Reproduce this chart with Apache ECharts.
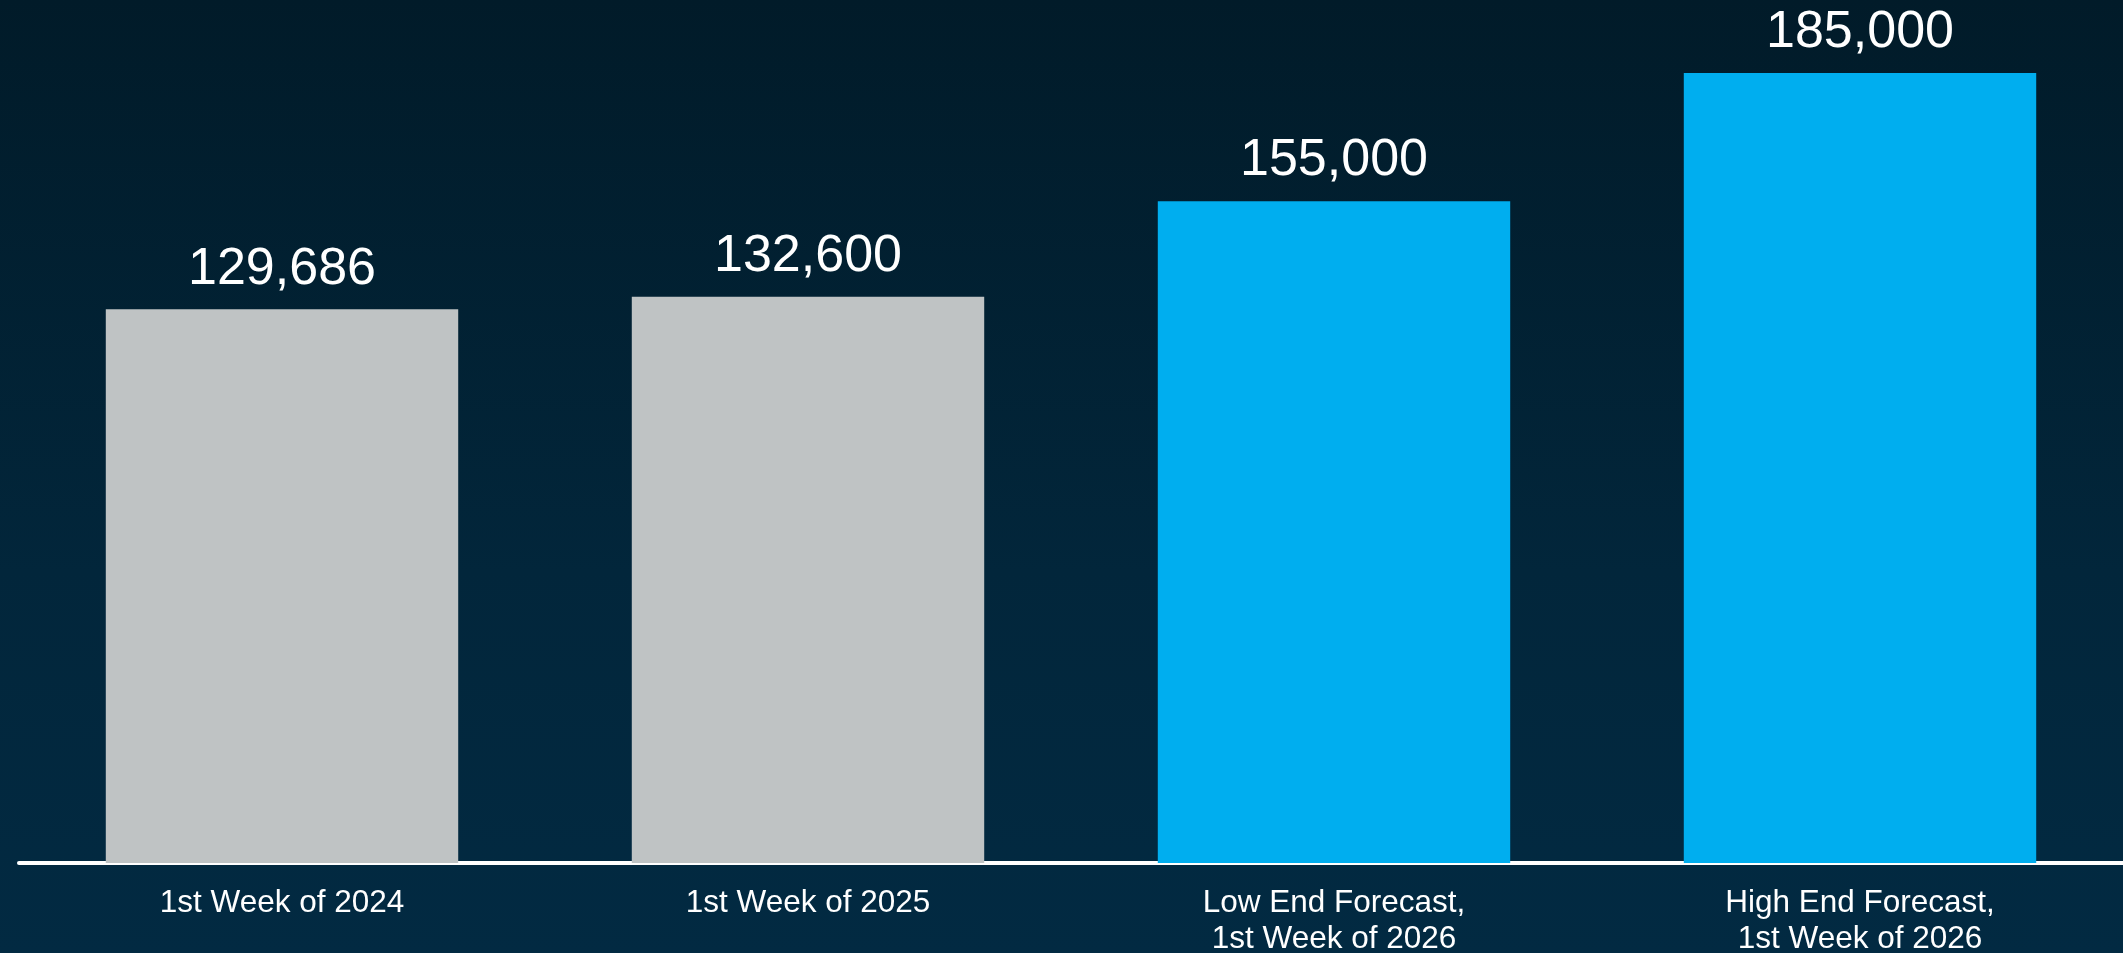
<!DOCTYPE html>
<html>
<head>
<meta charset="utf-8">
<script src="https://cdn.jsdelivr.net/npm/echarts@6/dist/echarts.min.js"></script>
<style>
  html, body { margin: 0; padding: 0; }
  #chart {
    width: 2123px;
    height: 953px;
    background: linear-gradient(to bottom, #011b29 0%, #02263b 60%, #022a42 100%);
  }
</style>
</head>
<body>
<div id="chart"></div>
<script>
// categories and values
var categories = [
  "1st Week of 2024",
  "1st Week of 2025",
  "Low End Forecast,\n1st Week of 2026",
  "High End Forecast,\n1st Week of 2026"
];
var values = [129686, 132600, 155000, 185000];
var barColors = ["#bfc3c4", "#bfc3c4", "#00aeef", "#00aeef"];

var myChart = echarts.init(document.getElementById("chart"));

var option = {
  backgroundColor: "transparent",
  animation: false,
  grid: {
    left: 19,
    right: 0,
    top: 9,
    bottom: 90,
    containLabel: false,
    outerBoundsMode: "none"
  },
  xAxis: {
    type: "category",
    data: categories,
    axisTick: { show: false },
    axisLine: {
      show: true,
      lineStyle: { color: "#ffffff", width: 4 }
    },
    axisLabel: {
      interval: 0,
      margin: 22,
      color: "#ffffff",
      fontFamily: "Liberation Sans, Arial, sans-serif",
      fontSize: 31.5,
      lineHeight: 36
    }
  },
  yAxis: {
    type: "value",
    min: 0,
    max: 200000,
    show: false,
    splitLine: { show: false }
  },
  series: [
    {
      type: "bar",
      barCategoryGap: "33%",
      data: values.map(function (v, i) {
        return { value: v, itemStyle: { color: barColors[i] } };
      }),
      label: {
        show: true,
        position: "top",
        distance: 14,
        color: "#ffffff",
        fontFamily: "Liberation Sans, Arial, sans-serif",
        fontSize: 52,
        formatter: function (p) {
          return p.value.toLocaleString("en-US");
        }
      }
    }
  ]
};

myChart.setOption(option);
</script>
</body>
</html>
